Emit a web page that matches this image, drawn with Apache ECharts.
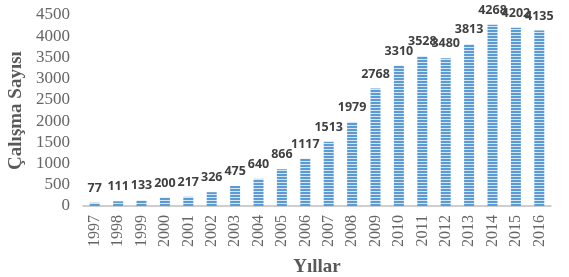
<!DOCTYPE html>
<html>
<head>
<meta charset="utf-8">
<script src="https://cdn.jsdelivr.net/npm/echarts@6/dist/echarts.min.js"></script>
<style>
html,body{margin:0;padding:0;background:#fff}
#chart{width:569px;height:277px}
</style>
</head>
<body>
<div id="chart"></div>
<script>
let years = ['1997','1998','1999','2000','2001','2002','2003','2004','2005','2006',
	'2007','2008','2009','2010','2011','2012','2013','2014','2015','2016']
let counts = [77,111,133,200,217,326,475,640,866,1117,1513,1979,2768,3310,3528,3480,3813,4268,4202,4135]

// striped fill for the bars
function stripes() {
	let c = document.createElement('canvas')
	c.width = 4
	c.height = 3
	let ctx = c.getContext('2d')
	ctx.fillStyle = '#5b9bd5'
	ctx.fillRect(0,0,4,3)
	ctx.fillStyle = '#d6e6f5'
	ctx.fillRect(0,2,4,1)
	return c
}

window.onload = function() {
	let chart = echarts.init(document.getElementById('chart'))
	let option = {
		animation:false,
		grid:{left:83,right:18,top:15,bottom:71,containLabel:false,outerBoundsMode:'none'},
		xAxis:{
			type:'category',
			data:years,
			name:'Yıllar',
			nameLocation:'middle',
			nameGap:52,
			nameTextStyle:{fontFamily:'Liberation Serif',fontWeight:'bold',fontSize:19,color:'#595959'},
			axisLine:{lineStyle:{color:'#bfbfbf',width:1.5}},
			axisTick:{show:false},
			axisLabel:{rotate:90,fontFamily:'Liberation Serif',fontSize:16,color:'#666',margin:9}
		},
		yAxis:{
			type:'value',
			min:0,
			max:4500,
			interval:500,
			name:'Çalışma Sayısı',
			nameLocation:'middle',
			nameGap:56,
			nameTextStyle:{fontFamily:'Liberation Serif',fontWeight:'bold',fontSize:19,color:'#595959'},
			splitLine:{show:false},
			axisLine:{show:false},
			axisTick:{show:false},
			axisLabel:{fontFamily:'Liberation Serif',fontSize:17,color:'#666',margin:13,formatter:v=>String(v)}
		},
		series:[
			{
				type:'bar',
				data:counts,
				barWidth:10,
				itemStyle:{color:{image:stripes(),repeat:'repeat'}},
				label:{
					show:true,
					position:'top',
					distance:8,
					fontFamily:'Open Sans',
					fontWeight:'bold',
					fontSize:12.5,
					color:'#404040'
				}
			}
		]
	}
	chart.setOption(option)
}
</script>
</body>
</html>
